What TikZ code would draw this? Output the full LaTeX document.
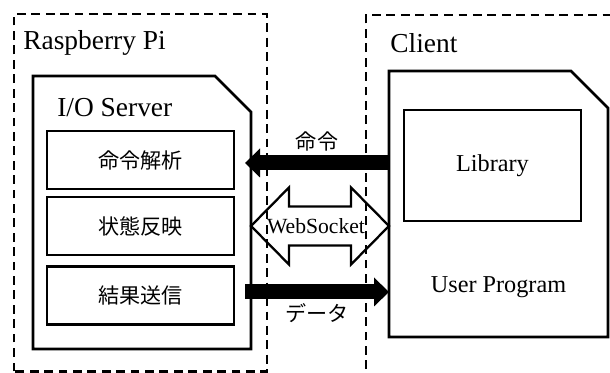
\documentclass[tikz,border=0pt]{standalone}
\usepackage{fontspec}
\setmainfont{Liberation Serif}
\newfontfamily\jpfont{Noto Sans CJK JP}
\usetikzlibrary{arrows.meta,calc}
\tikzset{
  group/.style={line width=1.5pt, dash pattern=on 5pt off 3.2pt},
  part/.style={draw, line width=1.5pt},
  func/.style={part, minimum width=3.74cm, minimum height=1.16cm, font=\jpfont\fontsize{12}{14}\selectfont},
  jp/.style={inner sep=0pt, font=\jpfont\fontsize{12}{14}\selectfont},
  fat/.style={line width=0.3cm, -{Triangle[length=0.3cm, width=0.58cm, line width=0pt]}},
  title/.style={anchor=base west, inner sep=0pt, font=\fontsize{15.6}{18}\selectfont},
}
\begin{document}
\begin{tikzpicture}
    \useasboundingbox (0, 0) rectangle (12.2, 7.46);
    \clip (0, 0) rectangle (12.2, 7.46);
    % Raspberry Pi
    \draw[group] (0.28, 0.034) rectangle (5.34, 7.18);
    \node[title] (rpi) at (0.46, 6.46) {Raspberry Pi};
    \draw[part] (0.66, 0.48) -- (0.66, 5.94) -- (4.30, 5.94) -- (5.02, 5.22) -- (5.02, 0.48) -- cycle;
    \coordinate (srv) at (5.02, 0);
    \node[title] (iosrv) at (1.14, 5.12) {I/O Server};
    \foreach \name/\txt/\y in {parse/命令解析/4.26, apply/状態反映/2.94, send/結果送信/1.55}
      \node[func] (\name) at (2.81, \y) {\txt};
    % Client
    \draw[group] (7.32, -0.5) -- (7.32, 7.16) -- (12.6, 7.16);
    \node[title] (client) at (7.80, 6.40) {Client};
    \draw[part] (7.78, 0.72) -- (7.78, 6.04) -- (11.42, 6.04) -- (12.16, 5.30) -- (12.16, 0.72) -- cycle;
    \coordinate (cli) at (7.78, 0);
    \node[part, minimum width=3.54cm, minimum height=2.22cm, font=\fontsize{13.8}{16}\selectfont] (lib) at (9.85, 4.15) {Library};
    \node[anchor=base, inner sep=0pt, font=\fontsize{13.8}{16}\selectfont] (user) at (9.97, 1.60) {User Program};
    % connections
    \draw[fat] ([yshift=-0.06cm]cli |- parse) -- ([xshift=-0.12cm, yshift=-0.06cm]srv |- parse) node[jp, midway, above=0.09cm] (cmd) {命令};
    \draw[fat] ([xshift=-0.12cm, yshift=0.07cm]srv |- send) -- ([yshift=0.07cm]cli |- send) node[jp, midway, below=0.08cm] (data) {データ};
    \draw[line width=1.3pt, line join=miter] (srv |- apply) -- ++(0.76, 0.77) -- ++(0, -0.38) -- ++(1.24, 0) -- ++(0, 0.38)
      -- ++(0.76, -0.77) -- ++(-0.76, -0.77) -- ++(0, 0.38) -- ++(-1.24, 0) -- ++(0, -0.38) -- cycle;
    \node[font=\fontsize{12.3}{14}\selectfont] (ws) at ($(srv |- apply)!0.5!(cli |- apply) + (-0.08, 0)$) {WebSocket};
\end{tikzpicture}
\end{document}
